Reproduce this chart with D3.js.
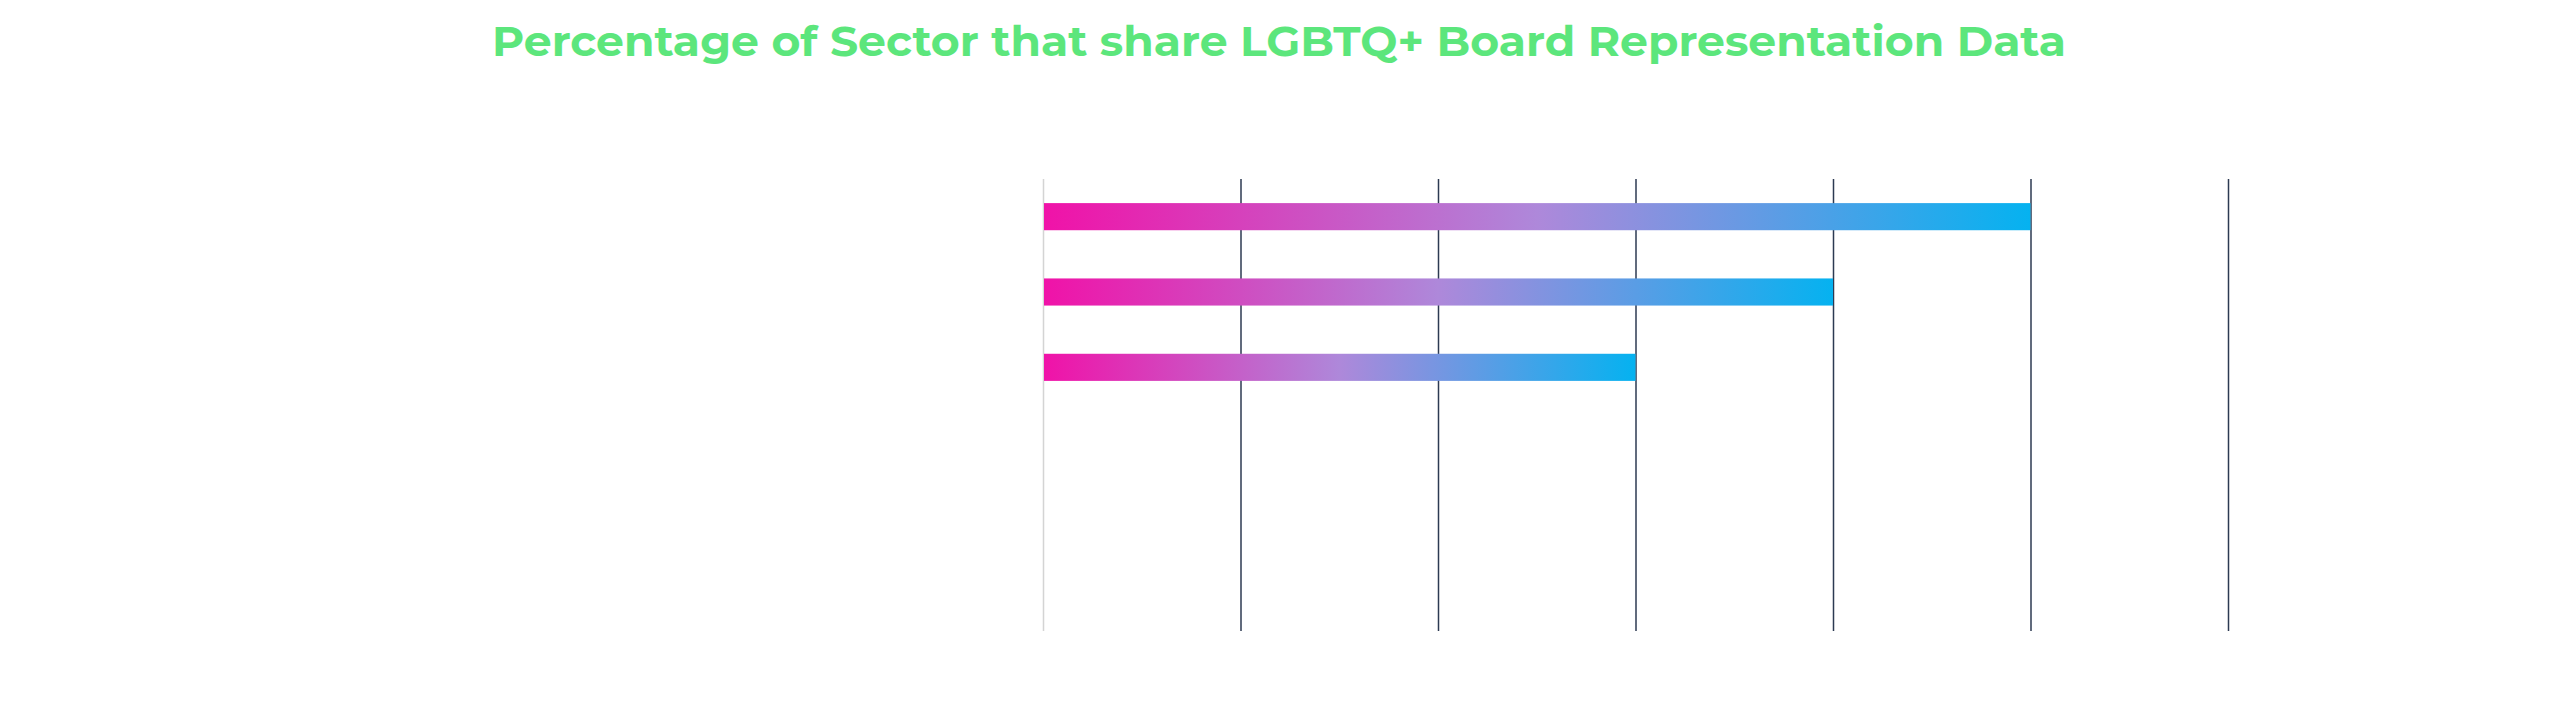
<!DOCTYPE html>
<html>
<head>
<meta charset="utf-8">
<script src="https://cdn.jsdelivr.net/npm/d3@7"></script>
<style>
  body { margin: 0; background: #fff; }
  .title { font-family: "Montserrat", Lato, "Open Sans", sans-serif; font-weight: 700; fill: #5ce67c; }
  .grid line { stroke: #2c3a52; stroke-width: 1.5; }
  .grid .domain { display: none; }
</style>
</head>
<body>
<div id="vis1"></div>
<script>
// sectors (labels are not shown in the chart)
var sectors = ["Sector 1", "Sector 2", "Sector 3", "Sector 4", "Sector 5", "Sector 6"];
var shareValues = [50, 40, 30, 0, 0, 0];
var xTicks = [0, 10, 20, 30, 40, 50, 60];
var titleText = "Percentage of Sector that share LGBTQ+ Board Representation Data";

var width = 2560, height = 709;

var svg = d3.select("#vis1").append("svg")
    .attr("width", width)
    .attr("height", height);

// gradient for the bars
var grad = svg.append("defs").append("linearGradient")
    .attr("id", "barGrad")
    .attr("x1", "0%").attr("x2", "100%")
    .attr("y1", "0%").attr("y2", "0%");
grad.append("stop").attr("offset", "0%").attr("stop-color", "#f012a8");
grad.append("stop").attr("offset", "50%").attr("stop-color", "#ae88da");
grad.append("stop").attr("offset", "100%").attr("stop-color", "#05b2f0");

var xScale = d3.scaleLinear()
    .domain([0, 60])
    .range([1043, 2228]);

var yScale = d3.scaleBand()
    .domain(sectors)
    .range([179, 631])
    .paddingInner(0.64)
    .paddingOuter(0.32);

// vertical grid lines
svg.append("g")
    .attr("class", "grid")
    .attr("transform", "translate(0, 631)")
    .call(d3.axisBottom(xScale)
        .tickValues(xTicks)
        .tickSize(-(631 - 179))
        .tickFormat(""))
    .selectAll(".tick line")
    .style("stroke", function(d) { return d === 0 ? "#d4d4d4" : null; });

// bars
svg.selectAll(".bar")
    .data(sectors)
    .enter().append("rect")
    .attr("class", "bar")
    .attr("x", xScale(0) + 1)
    .attr("y", function(d) { return yScale(d); })
    .attr("height", yScale.bandwidth())
    .attr("width", function(d, i) { return Math.max(0, xScale(shareValues[i]) - xScale(0) - 1); })
    .attr("fill", "url(#barGrad)");

svg.append("text")
    .attr("class", "title")
    .attr("x", 1279)
    .attr("y", 56)
    .attr("text-anchor", "middle")
    .attr("font-size", 42)
    .attr("textLength", 1574)
    .attr("lengthAdjust", "spacingAndGlyphs")
    .text(titleText);
</script>
</body>
</html>
